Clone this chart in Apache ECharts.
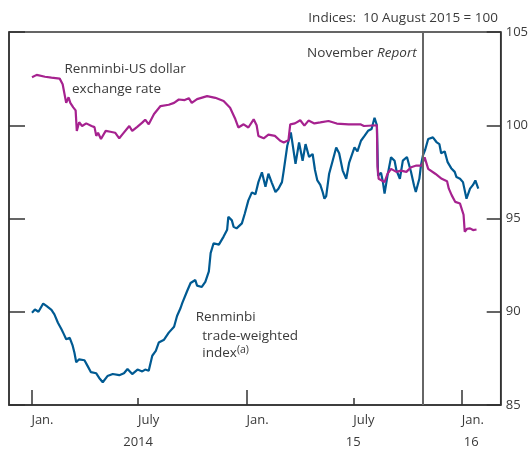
<!DOCTYPE html>
<html><head><meta charset="utf-8">
<script src="https://cdn.jsdelivr.net/npm/echarts@6/dist/echarts.min.js"></script>
<style>html,body{margin:0;padding:0;background:#fff}#c{width:532px;height:449px}</style>
</head><body><div id="c"></div>
<script>
// Renminbi-US dollar exchange rate (index, 10 Aug 2015 = 100)
const usdDates = ['2014-01-02','2014-01-10','2014-01-24','2014-02-04','2014-02-18','2014-02-23','2014-03-01','2014-03-05','2014-03-08','2014-03-13','2014-03-17','2014-03-19','2014-03-23','2014-03-28','2014-04-04','2014-04-13','2014-04-18','2014-04-21','2014-04-24','2014-04-29','2014-05-07','2014-05-15','2014-05-23','2014-05-30','2014-06-04','2014-06-16','2014-06-21','2014-06-29','2014-07-08','2014-07-13','2014-07-19','2014-07-28','2014-08-08','2014-08-22','2014-08-31','2014-09-08','2014-09-18','2014-09-25','2014-09-30','2014-10-09','2014-10-26','2014-11-09','2014-11-23','2014-12-04','2014-12-13','2014-12-18','2014-12-27','2015-01-04','2015-01-13','2015-01-18','2015-01-21','2015-01-30','2015-02-07','2015-02-18','2015-02-27','2015-03-05','2015-03-13','2015-03-16','2015-03-24','2015-04-02','2015-04-09','2015-04-16','2015-04-26','2015-05-06','2015-05-20','2015-06-03','2015-06-23','2015-07-13','2015-07-19','2015-08-10','2015-08-11','2015-08-13','2015-08-23','2015-08-28','2015-09-03','2015-09-12','2015-09-20','2015-09-29','2015-10-07','2015-10-16','2015-10-25','2015-10-30','2015-11-05','2015-11-17','2015-11-28','2015-12-07','2015-12-10','2015-12-15','2015-12-21','2015-12-29','2016-01-01','2016-01-04','2016-01-06','2016-01-10','2016-01-15','2016-01-20','2016-01-26'];
const usdValues = [102.57,102.7,102.6,102.55,102.5,102.2,101.2,101.5,101.2,100.96,100.8,99.7,100.16,99.96,100.1,99.96,99.9,99.43,99.6,99.26,99.7,99.65,99.6,99.3,99.5,99.96,99.7,99.9,100.14,100.3,100.05,100.6,101.03,101.1,101.2,101.38,101.35,101.45,101.2,101.4,101.56,101.47,101.3,100.94,100.32,99.88,100.05,99.88,100.32,100.0,99.43,99.3,99.5,99.43,99.17,99.08,99.2,100.05,100.1,100.27,99.98,100.25,100.1,100.15,100.23,100.09,100.05,100.05,99.96,100.0,97.8,97.13,96.95,97.4,97.66,97.5,97.57,97.5,97.75,97.84,97.84,98.28,97.66,97.4,97.13,97.0,96.6,96.24,95.89,95.8,95.7,95.2,94.29,94.45,94.47,94.38,94.41];

// Renminbi trade-weighted index
const twiDates = ['2014-01-02','2014-01-07','2014-01-13','2014-01-21','2014-01-27','2014-02-04','2014-02-09','2014-02-15','2014-02-21','2014-02-25','2014-03-01','2014-03-07','2014-03-12','2014-03-15','2014-03-18','2014-03-23','2014-04-01','2014-04-06','2014-04-12','2014-04-21','2014-04-26','2014-05-02','2014-05-10','2014-05-19','2014-05-30','2014-06-07','2014-06-13','2014-06-21','2014-06-30','2014-07-08','2014-07-13','2014-07-19','2014-07-25','2014-07-31','2014-08-05','2014-08-14','2014-08-22','2014-08-31','2014-09-05','2014-09-11','2014-09-14','2014-09-22','2014-09-28','2014-10-06','2014-10-09','2014-10-17','2014-10-23','2014-10-29','2014-11-01','2014-11-06','2014-11-15','2014-11-23','2014-11-29','2014-12-01','2014-12-07','2014-12-10','2014-12-15','2014-12-24','2014-12-29','2015-01-04','2015-01-10','2015-01-16','2015-01-21','2015-01-27','2015-02-02','2015-02-07','2015-02-13','2015-02-19','2015-02-24','2015-03-02','2015-03-05','2015-03-11','2015-03-17','2015-03-19','2015-03-25','2015-03-31','2015-04-06','2015-04-11','2015-04-17','2015-04-23','2015-04-27','2015-05-01','2015-05-06','2015-05-10','2015-05-13','2015-05-16','2015-05-21','2015-05-27','2015-06-02','2015-06-07','2015-06-13','2015-06-19','2015-06-24','2015-07-03','2015-07-08','2015-07-14','2015-07-20','2015-07-26','2015-08-01','2015-08-06','2015-08-10','2015-08-12','2015-08-17','2015-08-20','2015-08-23','2015-08-28','2015-09-03','2015-09-09','2015-09-12','2015-09-18','2015-09-23','2015-09-30','2015-10-07','2015-10-12','2015-10-15','2015-10-21','2015-10-24','2015-10-27','2015-10-31','2015-11-05','2015-11-13','2015-11-19','2015-11-24','2015-11-27','2015-12-03','2015-12-08','2015-12-14','2015-12-20','2015-12-23','2015-12-29','2016-01-03','2016-01-09','2016-01-15','2016-01-20','2016-01-24','2016-01-29'];
const twiValues = [89.95,90.12,90.0,90.44,90.3,90.1,89.86,89.41,89.06,88.8,88.53,88.6,88.18,87.8,87.29,87.45,87.4,87.11,86.76,86.7,86.45,86.22,86.55,86.66,86.6,86.7,86.93,86.66,86.9,86.8,86.9,86.84,87.64,87.9,88.35,88.5,88.88,89.2,89.77,90.2,90.48,91.1,91.54,91.7,91.4,91.33,91.6,92.16,93.14,93.67,93.6,94.03,94.4,95.09,94.9,94.55,94.47,94.74,95.27,95.97,96.4,96.3,96.95,97.48,96.7,97.4,96.9,96.42,96.6,96.95,97.57,98.9,99.61,99.2,97.93,99.08,98.1,98.99,98.3,98.46,97.6,97.04,96.8,96.42,96.06,96.2,97.4,98.1,98.81,98.5,97.57,97.13,98.0,98.81,98.6,99.17,99.43,99.7,99.8,100.4,100.0,97.3,97.45,97.0,96.33,97.3,98.28,98.1,97.6,97.13,98.1,98.3,97.48,96.77,96.42,97.13,97.9,98.37,98.7,99.26,99.35,99.1,98.99,98.5,98.6,98.02,97.7,97.5,97.22,97.13,96.95,96.06,96.6,96.8,97.04,96.6];

// Axis ticks and labels
const janTicks = ['2014-01-01','2015-01-01','2016-01-01'];
const julyTicks = ['2014-07-01','2015-07-01'];
const monthLabelDates = ['2014-01-01','2014-07-01','2015-01-01','2015-07-01','2016-01-01'];
const monthLabelTexts = ['Jan.','July','Jan.','July','Jan.'];
const yearLabelDates = ['2014-07-01','2015-07-01','2016-01-17'];
const yearLabelTexts = ['2014','15','16'];
const reportDate = '2015-10-27';
const xMin = '2013-11-24', xMax = '2016-03-07';

const ts = s => { const p = s.split('-').map(Number); return Date.UTC(p[0], p[1]-1, p[2]); };
const FONT = 'Open Sans';
const TXT = '#3a3a3a';
const AX = '#333333';
const ANN = '13.5px "Open Sans"';

const chart = echarts.init(document.getElementById('c'), null, {renderer:'canvas'});
const lookup = (dates, texts) => v => { const i = dates.map(ts).indexOf(v); return i >= 0 ? texts[i] : ''; };

const baseX = {type:'value', min: ts(xMin), max: ts(xMax), position:'bottom', splitLine:{show:false}, gridIndex:0};
chart.setOption({
  animation:false,
  grid:{left:9, right:31.3, top:32, bottom:40.5, show:true, borderColor:AX, borderWidth:1.5, backgroundColor:'transparent'},
  xAxis:[
    Object.assign({}, baseX, {
      axisLine:{show:true, lineStyle:{color:AX, width:1.5}},
      axisTick:{show:true, inside:true, length:15, customValues: janTicks.map(ts), lineStyle:{color:AX, width:1.5}},
      axisLabel:{show:true, customValues: monthLabelDates.map(ts), formatter: lookup(monthLabelDates, monthLabelTexts), align:'left', margin:9, color:TXT, fontFamily:FONT, fontSize:13}
    }),
    Object.assign({}, baseX, {
      axisLine:{show:false},
      axisTick:{show:true, inside:true, length:7, customValues: julyTicks.map(ts), lineStyle:{color:AX, width:1.5}},
      axisLabel:{show:true, customValues: yearLabelDates.map(ts), formatter: lookup(yearLabelDates, yearLabelTexts), align:'center', margin:31, color:TXT, fontFamily:FONT, fontSize:13}
    })
  ],
  yAxis:[
    {type:'value', min:85, max:105, interval:5, position:'right',
     axisLine:{show:true, lineStyle:{color:AX, width:1.5}},
     axisTick:{show:true, inside:true, length:14, lineStyle:{color:AX, width:1.5}},
     axisLabel:{show:true, margin:5, color:TXT, fontFamily:FONT, fontSize:13},
     splitLine:{show:false}},
    {type:'value', min:85, max:105, interval:5, position:'left',
     axisLine:{show:true, lineStyle:{color:AX, width:1.5}},
     axisTick:{show:true, inside:true, length:16, lineStyle:{color:AX, width:1.5}},
     axisLabel:{show:false}, splitLine:{show:false}}
  ],
  series:[
    {name:'Renminbi-US dollar exchange rate', type:'line', xAxisIndex:0, yAxisIndex:0, showSymbol:false, symbol:'none',
     data: usdDates.map((d,i)=>[ts(d), usdValues[i]]), lineStyle:{color:'#A6228F', width:2.2}, itemStyle:{color:'#A6228F'}, z:3,
     markLine:{silent:true, symbol:'none', label:{show:false}, lineStyle:{color:'#666666', width:2, type:'solid'}, data:[{xAxis: ts(reportDate)}]}},
    {name:'Renminbi trade-weighted index', type:'line', xAxisIndex:0, yAxisIndex:0, showSymbol:false, symbol:'none',
     data: twiDates.map((d,i)=>[ts(d), twiValues[i]]), lineStyle:{color:'#005A92', width:2.2}, itemStyle:{color:'#005A92'}, z:2}
  ],
  graphic:[
    {type:'text', x:498, y:18.6, style:{text:'Indices:  10 August 2015 = 100', align:'right', verticalAlign:'middle', fill:TXT, font:ANN}},
    {type:'text', x:416.7, y:53, style:{text:'{a|November }{b|Report}', align:'right', verticalAlign:'middle', rich:{a:{fill:TXT, font:ANN}, b:{fill:TXT, font:'italic ' + ANN}}}},
    {type:'text', x:64.4, y:69.5, style:{text:'Renminbi-US dollar', verticalAlign:'middle', fill:TXT, font:ANN}},
    {type:'text', x:72, y:88.7, style:{text:'exchange rate', verticalAlign:'middle', fill:TXT, font:ANN}},
    {type:'text', x:195.7, y:316.7, style:{text:'Renminbi', verticalAlign:'middle', fill:TXT, font:ANN}},
    {type:'text', x:202.3, y:336.5, style:{text:'trade-weighted', verticalAlign:'middle', fill:TXT, font:ANN}},
    {type:'text', x:202.3, y:353, style:{text:'{a|index}{s|(a)}', verticalAlign:'middle', rich:{a:{fill:TXT, font:ANN}, s:{fill:TXT, font:'10.5px "Open Sans"', verticalAlign:'bottom', padding:[0,0,6,0]}}}}
  ]
});
</script></body></html>
